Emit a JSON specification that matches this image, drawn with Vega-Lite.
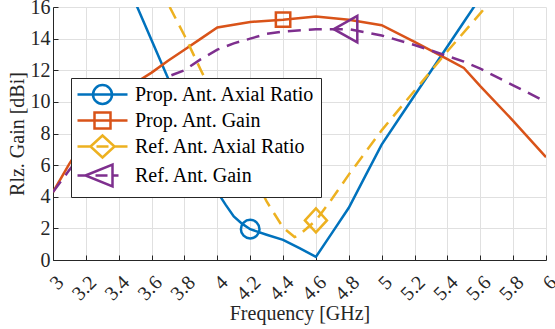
{
  "$schema": "https://vega.github.io/schema/vega-lite/v6.json",
  "width": 493,
  "height": 253,
  "autosize": {"type": "none"},
  "padding": {"left": 53, "top": 7, "right": 9, "bottom": 69},
  "background": "white",
  "config": {"view": {"stroke": null}, "font": "Liberation Serif"},
  "datasets": {
    "curves": [
      {"series": "Prop. Ant. Axial Ratio", "f": 3.4, "v": 18.6},
      {"series": "Prop. Ant. Axial Ratio", "f": 3.5, "v": 16.3},
      {"series": "Prop. Ant. Axial Ratio", "f": 3.6, "v": 13.9},
      {"series": "Prop. Ant. Axial Ratio", "f": 3.7, "v": 11.5},
      {"series": "Prop. Ant. Axial Ratio", "f": 3.8, "v": 9.1},
      {"series": "Prop. Ant. Axial Ratio", "f": 3.9, "v": 6.7},
      {"series": "Prop. Ant. Axial Ratio", "f": 4.0, "v": 4.3},
      {"series": "Prop. Ant. Axial Ratio", "f": 4.05, "v": 3.5},
      {"series": "Prop. Ant. Axial Ratio", "f": 4.1, "v": 2.75},
      {"series": "Prop. Ant. Axial Ratio", "f": 4.15, "v": 2.3},
      {"series": "Prop. Ant. Axial Ratio", "f": 4.2, "v": 1.95},
      {"series": "Prop. Ant. Axial Ratio", "f": 4.3, "v": 1.6},
      {"series": "Prop. Ant. Axial Ratio", "f": 4.4, "v": 1.27},
      {"series": "Prop. Ant. Axial Ratio", "f": 4.5, "v": 0.75},
      {"series": "Prop. Ant. Axial Ratio", "f": 4.6, "v": 0.2},
      {"series": "Prop. Ant. Axial Ratio", "f": 4.7, "v": 1.75},
      {"series": "Prop. Ant. Axial Ratio", "f": 4.8, "v": 3.3},
      {"series": "Prop. Ant. Axial Ratio", "f": 4.9, "v": 5.3},
      {"series": "Prop. Ant. Axial Ratio", "f": 5.0, "v": 7.3},
      {"series": "Prop. Ant. Axial Ratio", "f": 5.1, "v": 8.85},
      {"series": "Prop. Ant. Axial Ratio", "f": 5.2, "v": 10.4},
      {"series": "Prop. Ant. Axial Ratio", "f": 5.3, "v": 11.95},
      {"series": "Prop. Ant. Axial Ratio", "f": 5.4, "v": 13.5},
      {"series": "Prop. Ant. Axial Ratio", "f": 5.5, "v": 15.05},
      {"series": "Prop. Ant. Axial Ratio", "f": 5.6, "v": 16.6},
      {"series": "Prop. Ant. Gain", "f": 3.0, "v": 4.3},
      {"series": "Prop. Ant. Gain", "f": 3.1, "v": 6.1},
      {"series": "Prop. Ant. Gain", "f": 3.2, "v": 7.7},
      {"series": "Prop. Ant. Gain", "f": 3.3, "v": 9.1},
      {"series": "Prop. Ant. Gain", "f": 3.4, "v": 10.3},
      {"series": "Prop. Ant. Gain", "f": 3.5, "v": 11.2},
      {"series": "Prop. Ant. Gain", "f": 3.6, "v": 11.85},
      {"series": "Prop. Ant. Gain", "f": 3.7, "v": 12.6},
      {"series": "Prop. Ant. Gain", "f": 3.8, "v": 13.3},
      {"series": "Prop. Ant. Gain", "f": 3.9, "v": 14.0},
      {"series": "Prop. Ant. Gain", "f": 4.0, "v": 14.7},
      {"series": "Prop. Ant. Gain", "f": 4.2, "v": 15.05},
      {"series": "Prop. Ant. Gain", "f": 4.4, "v": 15.2},
      {"series": "Prop. Ant. Gain", "f": 4.6, "v": 15.4},
      {"series": "Prop. Ant. Gain", "f": 4.8, "v": 15.2},
      {"series": "Prop. Ant. Gain", "f": 5.0, "v": 14.85},
      {"series": "Prop. Ant. Gain", "f": 5.2, "v": 13.8},
      {"series": "Prop. Ant. Gain", "f": 5.4, "v": 12.7},
      {"series": "Prop. Ant. Gain", "f": 5.5, "v": 12.15},
      {"series": "Prop. Ant. Gain", "f": 5.6, "v": 11.0},
      {"series": "Prop. Ant. Gain", "f": 5.8, "v": 8.8},
      {"series": "Prop. Ant. Gain", "f": 6.0, "v": 6.5},
      {"series": "Ref. Ant. Axial Ratio", "f": 3.6, "v": 18.4},
      {"series": "Ref. Ant. Axial Ratio", "f": 3.7, "v": 16.2},
      {"series": "Ref. Ant. Axial Ratio", "f": 3.8, "v": 14.2},
      {"series": "Ref. Ant. Axial Ratio", "f": 3.9, "v": 12.0},
      {"series": "Ref. Ant. Axial Ratio", "f": 4.0, "v": 9.9},
      {"series": "Ref. Ant. Axial Ratio", "f": 4.1, "v": 7.8},
      {"series": "Ref. Ant. Axial Ratio", "f": 4.2, "v": 5.8},
      {"series": "Ref. Ant. Axial Ratio", "f": 4.3, "v": 3.7},
      {"series": "Ref. Ant. Axial Ratio", "f": 4.4, "v": 2.05},
      {"series": "Ref. Ant. Axial Ratio", "f": 4.47, "v": 1.45},
      {"series": "Ref. Ant. Axial Ratio", "f": 4.5, "v": 1.6},
      {"series": "Ref. Ant. Axial Ratio", "f": 4.6, "v": 2.5},
      {"series": "Ref. Ant. Axial Ratio", "f": 4.7, "v": 3.9},
      {"series": "Ref. Ant. Axial Ratio", "f": 4.8, "v": 5.4},
      {"series": "Ref. Ant. Axial Ratio", "f": 4.9, "v": 6.8},
      {"series": "Ref. Ant. Axial Ratio", "f": 5.0, "v": 8.2},
      {"series": "Ref. Ant. Axial Ratio", "f": 5.2, "v": 10.7},
      {"series": "Ref. Ant. Axial Ratio", "f": 5.4, "v": 13.2},
      {"series": "Ref. Ant. Axial Ratio", "f": 5.6, "v": 15.6},
      {"series": "Ref. Ant. Axial Ratio", "f": 5.7, "v": 16.8},
      {"series": "Ref. Ant. Gain", "f": 3.0, "v": 4.3},
      {"series": "Ref. Ant. Gain", "f": 3.1, "v": 5.7},
      {"series": "Ref. Ant. Gain", "f": 3.2, "v": 7.0},
      {"series": "Ref. Ant. Gain", "f": 3.3, "v": 8.2},
      {"series": "Ref. Ant. Gain", "f": 3.4, "v": 9.3},
      {"series": "Ref. Ant. Gain", "f": 3.5, "v": 10.2},
      {"series": "Ref. Ant. Gain", "f": 3.6, "v": 11.0},
      {"series": "Ref. Ant. Gain", "f": 3.7, "v": 11.6},
      {"series": "Ref. Ant. Gain", "f": 3.8, "v": 12.0},
      {"series": "Ref. Ant. Gain", "f": 3.9, "v": 12.7},
      {"series": "Ref. Ant. Gain", "f": 4.0, "v": 13.3},
      {"series": "Ref. Ant. Gain", "f": 4.1, "v": 13.7},
      {"series": "Ref. Ant. Gain", "f": 4.2, "v": 14.0},
      {"series": "Ref. Ant. Gain", "f": 4.3, "v": 14.3},
      {"series": "Ref. Ant. Gain", "f": 4.4, "v": 14.45},
      {"series": "Ref. Ant. Gain", "f": 4.6, "v": 14.6},
      {"series": "Ref. Ant. Gain", "f": 4.8, "v": 14.6},
      {"series": "Ref. Ant. Gain", "f": 5.0, "v": 14.2},
      {"series": "Ref. Ant. Gain", "f": 5.2, "v": 13.6},
      {"series": "Ref. Ant. Gain", "f": 5.4, "v": 12.9},
      {"series": "Ref. Ant. Gain", "f": 5.5, "v": 12.55},
      {"series": "Ref. Ant. Gain", "f": 5.6, "v": 12.1},
      {"series": "Ref. Ant. Gain", "f": 5.8, "v": 11.05},
      {"series": "Ref. Ant. Gain", "f": 6.0, "v": 10.0}
    ],
    "markers": [
      {"series": "Prop. Ant. Axial Ratio", "f": 4.2, "v": 1.95},
      {"series": "Prop. Ant. Gain", "f": 4.4, "v": 15.2},
      {"series": "Ref. Ant. Axial Ratio", "f": 4.6, "v": 2.5},
      {"series": "Ref. Ant. Gain", "f": 4.8, "v": 14.6}
    ]
  },
  "encoding": {
    "x": {
      "field": "f", "type": "quantitative",
      "scale": {"domain": [3, 6], "nice": false, "zero": false},
      "axis": {
        "values": [3, 3.2, 3.4, 3.6, 3.8, 4, 4.2, 4.4, 4.6, 4.8, 5, 5.2, 5.4, 5.6, 5.8, 6],
        "format": "~g",
        "labelAngle": -45, "labelAlign": "right", "labelBaseline": "middle",
        "labelFlush": false, "labelOverlap": false, "labelBound": false,
        "labelFont": "Liberation Serif", "labelFontSize": 20, "labelColor": "#262626",
        "labelPadding": 24, "labelOffset": 7,
        "tickSize": -5, "tickColor": "#262626", "tickWidth": 1,
        "domainColor": "#262626", "domainWidth": 1,
        "grid": true, "gridColor": "#e0e0e0", "gridWidth": 1,
        "title": "Frequency [GHz]", "titleFont": "Liberation Serif", "titleFontSize": 20,
        "titleFontWeight": "normal", "titleColor": "#262626",
        "titleX": 246.5, "titleY": 59, "titleBaseline": "alphabetic", "titleAlign": "center"
      }
    },
    "y": {
      "field": "v", "type": "quantitative",
      "scale": {"domain": [0, 16], "nice": false},
      "axis": {
        "values": [0, 2, 4, 6, 8, 10, 12, 14, 16],
        "format": "d", "labelOverlap": false,
        "labelFont": "Liberation Serif", "labelFontSize": 20, "labelColor": "#262626",
        "labelPadding": 8,
        "tickSize": -5, "tickColor": "#262626", "tickWidth": 1,
        "domainColor": "#262626", "domainWidth": 1,
        "grid": true, "gridColor": "#e0e0e0", "gridWidth": 1,
        "title": "Rlz. Gain [dBi]", "titleFont": "Liberation Serif", "titleFontSize": 20,
        "titleFontWeight": "normal", "titleColor": "#262626",
        "titleX": -30, "titleY": 126.5, "titleAngle": -90, "titleBaseline": "alphabetic", "titleAlign": "center"
      }
    }
  },
  "layer": [
    {
      "data": {"name": "curves"},
      "transform": [{"filter": "datum.series === 'Prop. Ant. Axial Ratio' || datum.series === 'Prop. Ant. Gain'"}],
      "mark": {"type": "line", "clip": true, "strokeWidth": 2.5, "strokeCap": "butt"},
      "encoding": {
        "color": {
          "field": "series", "type": "nominal",
          "scale": {
            "domain": ["Prop. Ant. Axial Ratio", "Prop. Ant. Gain", "Ref. Ant. Axial Ratio", "Ref. Ant. Gain"],
            "range": ["#0072BD", "#D95319", "#EDB120", "#7E2F8E"]
          },
          "legend": {
            "orient": "none", "legendX": 18, "legendY": 71, "title": null,
            "padding": 5, "rowPadding": -4,
            "strokeColor": "#262626", "fillColor": "white",
            "labelFont": "Liberation Serif", "labelFontSize": 20, "labelColor": "#000000",
            "labelLimit": 400, "labelOffset": 36,
            "symbolSize": 400, "symbolStrokeWidth": 2.5,
            "encode": {
              "symbols": {
                "update": {
                  "shape": {"signal": "datum.value === 'Prop. Ant. Axial Ratio' ? 'M-1,0L4,0M2.45,0C2.45,0.52 2.02,0.95 1.5,0.95C0.98,0.95 0.55,0.52 0.55,0C0.55,-0.52 0.98,-0.95 1.5,-0.95C2.02,-0.95 2.45,-0.52 2.45,0Z' : datum.value === 'Prop. Ant. Gain' ? 'M-1,0L4,0M0.7,-0.8L2.3,-0.8L2.3,0.8L0.7,0.8Z' : datum.value === 'Ref. Ant. Axial Ratio' ? 'M-1,0L0.3,0M0.9,0L2.1,0M2.7,0L4,0M0.3,0L1.5,-1.1L2.7,0L1.5,1.1Z' : 'M-1,0L-0.2,0M0.8,0L2,0M2.5,0L3.1,0M-0.2,0L2.5,-1.1L2.5,1.1Z'"},
                  "size": {"value": 400},
                  "strokeWidth": {"value": 2.5},
                  "fill": {"value": "transparent"},
                  "opacity": {"value": 1}
                }
              }
            }
          }
        }
      }
    },
    {
      "data": {"name": "curves"},
      "transform": [{"filter": "datum.series === 'Ref. Ant. Axial Ratio' || datum.series === 'Ref. Ant. Gain'"}],
      "mark": {"type": "line", "clip": true, "strokeWidth": 2.5, "strokeCap": "butt", "strokeDash": [13, 8]},
      "encoding": {
        "color": {"field": "series", "type": "nominal", "legend": null}
      }
    },
    {
      "data": {"name": "markers"},
      "transform": [{"filter": "datum.series === 'Prop. Ant. Axial Ratio'"}],
      "mark": {"type": "point", "filled": false, "strokeWidth": 2.5, "size": 400, "opacity": 1, "color": "#0072BD",
        "shape": "M0.93,0C0.93,0.51 0.51,0.93 0,0.93C-0.51,0.93 -0.93,0.51 -0.93,0C-0.93,-0.51 -0.51,-0.93 0,-0.93C0.51,-0.93 0.93,-0.51 0.93,0Z"}
    },
    {
      "data": {"name": "markers"},
      "transform": [{"filter": "datum.series === 'Prop. Ant. Gain'"}],
      "mark": {"type": "point", "filled": false, "strokeWidth": 2.5, "size": 400, "opacity": 1, "color": "#D95319",
        "shape": "M-0.72,-0.72L0.72,-0.72L0.72,0.72L-0.72,0.72Z"}
    },
    {
      "data": {"name": "markers"},
      "transform": [{"filter": "datum.series === 'Ref. Ant. Axial Ratio'"}],
      "mark": {"type": "point", "filled": false, "strokeWidth": 2.5, "size": 400, "opacity": 1, "color": "#EDB120",
        "shape": "M-1.1,0L0,-1.2L1.1,0L0,1.2Z"}
    },
    {
      "data": {"name": "markers"},
      "transform": [{"filter": "datum.series === 'Ref. Ant. Gain'"}],
      "mark": {"type": "point", "filled": false, "strokeWidth": 2.5, "size": 400, "opacity": 1, "color": "#7E2F8E",
        "shape": "M-1.5,0L0.85,-1.33L0.85,1.33Z"}
    }
  ]
}
